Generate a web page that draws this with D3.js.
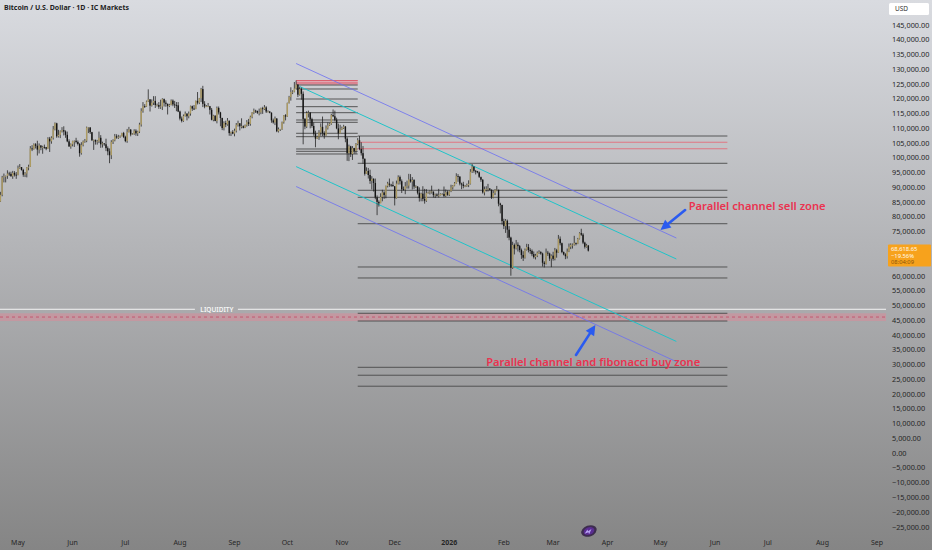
<!DOCTYPE html>
<html><head><meta charset="utf-8">
<script src="https://cdn.jsdelivr.net/npm/d3@7"></script>
<style>html,body{margin:0;padding:0;overflow:hidden;background:#b0b0b0}svg{display:block}</style>
</head><body><svg id="c" width="932" height="550"></svg>
<script>
// ---------- DATA ----------
const title = "Bitcoin / U.S. Dollar · 1D · IC Markets";
const startDate = "2025-04-21";   // first daily candle
const firstOpen = 85.2;           // thousands USD
// daily closes / highs / lows (thousands USD), Apr 21 2025 .. Mar 21 2026
const closes = [
 87.5,93.4,93.7,93.9,94.7,94.6,93.8,94.9,94.3,94.2,
 96.5,96.9,95.9,94.3,94.7,96.8,97.0,103.2,102.9,104.6,104.1,102.8,104.2,103.5,103.7,103.6,103.1,106.5,105.6,106.8,109.7,111.7,107.3,107.8,109.0,109.4,108.9,107.8,105.6,103.9,104.6,
 105.7,105.8,105.4,104.7,101.6,104.4,105.6,105.8,110.3,110.3,108.7,106.0,106.1,105.5,105.6,106.8,104.6,104.9,104.6,103.3,102.2,100.9,105.4,106.0,107.3,106.9,107.1,107.3,108.4,107.1,
 105.7,108.8,109.6,107.9,108.2,109.2,108.3,108.9,111.3,115.9,117.5,117.4,119.1,119.8,117.7,118.7,119.3,117.9,117.9,117.3,117.4,119.9,118.7,118.3,117.6,117.9,119.4,118.1,117.9,117.8,115.7,
 113.3,112.5,114.2,115.0,114.1,115.0,117.5,116.7,116.5,119.3,118.7,120.2,123.3,118.3,117.4,117.5,117.5,116.3,112.9,114.3,112.5,116.9,115.4,113.5,110.1,111.8,111.3,112.6,108.4,108.8,108.2,
 109.2,111.2,111.7,110.7,110.7,110.2,111.1,112.1,111.5,113.9,115.4,116.0,115.9,115.3,115.4,116.8,116.5,117.1,115.7,115.7,115.3,112.7,112.0,113.3,109.0,109.7,109.7,112.1,114.4,114.0,
 118.6,120.6,122.3,122.4,123.5,124.8,121.4,123.3,121.7,113.2,110.6,115.2,115.3,113.1,110.8,108.2,106.5,107.2,108.6,110.5,108.4,107.6,110.0,111.0,111.6,114.5,114.1,112.9,110.0,108.3,109.6,
 110.1,110.6,106.5,101.6,103.9,101.3,103.3,102.3,104.7,106.0,103.0,101.6,99.7,94.6,95.6,94.2,92.2,92.9,91.5,86.6,85.1,84.6,86.8,88.3,87.4,90.5,91.3,90.9,90.8,90.4,
 86.3,91.3,93.5,92.1,89.4,89.3,90.4,90.6,92.7,92.0,92.5,90.3,90.3,88.2,86.4,87.9,86.1,85.5,88.1,88.3,88.6,88.6,87.4,87.6,87.2,87.3,87.8,87.8,87.1,88.4,87.5,
 88.7,90.0,90.6,91.4,93.8,93.7,91.3,91.0,90.5,90.5,90.8,91.2,95.3,97.0,95.6,95.5,95.1,93.6,92.6,88.3,89.4,89.5,89.6,89.2,86.6,88.1,89.2,89.2,84.5,84.1,78.6,
 76.9,78.7,75.7,73.0,62.8,70.5,69.3,70.6,70.1,68.8,67.1,66.2,68.9,69.8,68.8,68.5,67.4,66.4,66.9,67.9,68.1,67.6,64.5,64.1,67.9,67.6,65.9,66.9,
 65.8,68.7,67.9,72.6,71.1,68.1,67.3,66.7,68.3,69.9,70.5,70.6,71.2,70.9,72.6,74.5,74.0,71.3,69.9,70.3,68.6
];
const highs = [
 88.5,93.9,94.7,94.0,95.8,95.3,95.3,95.6,95.5,95.2,
 97.4,97.9,96.9,96.3,95.2,96.9,97.7,104.0,104.3,104.9,105.0,105.8,104.9,104.3,104.1,104.5,103.7,107.0,107.1,107.3,110.8,112.0,111.9,109.5,109.3,110.4,110.7,109.3,108.9,106.3,104.9,
 105.8,105.9,106.8,105.9,105.0,105.3,105.9,106.4,110.6,110.4,110.4,108.8,106.2,106.2,106.1,108.9,107.7,105.5,105.0,106.5,103.9,103.2,106.0,106.3,108.1,108.0,107.8,107.6,108.5,108.8,
 107.5,109.8,110.5,109.7,108.4,109.7,109.7,109.2,111.9,116.8,118.9,118.2,119.4,123.2,119.9,119.8,120.9,120.9,118.4,118.9,119.7,120.2,120.1,119.5,118.4,118.3,119.8,119.8,119.3,118.9,118.9,
 116.0,114.0,114.7,115.7,115.1,115.7,117.7,117.7,117.9,119.4,122.3,120.3,123.7,124.4,119.2,117.9,118.6,117.6,116.9,114.6,114.4,117.4,117.4,115.6,113.6,112.4,112.6,113.5,112.6,108.9,109.4,
 109.9,111.8,112.6,111.8,113.4,111.0,111.3,112.8,113.2,114.3,115.5,116.7,116.3,116.0,116.7,117.0,117.3,117.9,117.5,116.1,115.8,115.4,113.3,114.0,113.5,110.3,109.8,112.3,114.5,114.8,
 118.7,121.0,123.9,122.9,125.7,126.2,125.0,124.1,123.8,122.5,113.5,115.8,116.0,115.5,113.6,112.0,109.2,107.5,109.4,111.7,114.0,109.0,111.0,112.0,111.9,114.9,116.4,116.0,113.6,111.6,111.2,
 110.6,111.2,110.8,107.0,104.5,104.1,104.0,103.4,105.0,106.7,107.4,105.3,104.0,99.8,96.8,96.6,96.0,93.8,93.1,93.0,87.3,85.6,88.0,89.2,88.7,90.6,91.9,93.0,91.2,92.0,
 90.4,92.3,94.1,94.0,92.7,90.3,91.8,92.3,94.6,94.5,93.5,92.8,90.7,90.4,90.0,88.2,90.4,89.5,89.4,88.6,89.0,90.6,88.6,87.9,88.0,89.5,88.0,88.0,90.3,89.3,89.0,
 88.9,90.9,90.8,91.8,94.8,94.5,93.7,91.6,91.9,90.8,91.3,92.4,96.2,97.9,97.2,95.9,95.6,95.4,93.3,92.8,90.3,90.4,91.2,89.8,89.3,88.9,89.4,90.5,89.2,84.8,84.0,
 79.4,79.3,79.1,76.9,73.3,71.6,71.0,72.2,71.4,70.5,69.3,68.4,69.3,70.9,70.8,69.4,69.0,68.3,67.5,68.3,68.7,68.4,67.9,65.0,69.3,68.5,67.9,67.3,
 68.2,69.5,69.2,73.9,73.4,71.3,68.3,67.7,69.3,71.0,71.1,71.0,73.6,71.3,72.9,74.8,76.0,74.5,71.6,70.9,70.5
];
const lows = [
 85.1,87.0,91.7,91.7,92.9,93.9,93.6,92.9,93.7,92.9,
 94.1,96.3,95.7,93.6,93.5,93.4,95.8,97.0,102.3,102.8,103.2,100.8,101.5,102.6,101.4,103.1,102.6,103.1,102.0,104.8,106.2,109.3,106.8,106.9,106.7,108.6,107.6,106.8,105.3,103.7,103.1,
 103.9,103.7,104.9,104.2,100.4,101.1,103.9,105.1,105.3,108.4,108.1,105.7,102.7,104.5,104.5,105.0,103.4,103.5,104.1,102.3,100.9,98.2,99.6,104.7,105.6,106.5,106.4,106.8,107.3,106.7,
 105.3,105.1,108.6,107.3,107.8,107.8,107.5,107.4,108.4,110.6,115.3,116.9,117.3,118.9,115.7,117.4,117.9,116.9,117.4,116.6,116.6,116.2,117.4,117.3,114.7,117.2,117.8,117.5,116.9,115.8,115.5,
 112.7,112.0,112.2,114.0,112.7,113.4,114.3,115.9,116.2,116.5,118.1,118.2,118.9,117.2,116.8,117.2,117.2,114.7,112.7,112.4,112.4,111.7,114.7,110.7,109.4,109.3,110.4,110.9,107.5,107.4,108.0,
 107.3,108.6,110.6,109.3,110.0,110.0,110.1,110.6,110.8,110.9,113.4,114.8,115.2,114.9,114.4,114.8,114.9,116.2,115.2,115.4,115.1,111.9,111.6,111.1,108.7,108.6,109.1,109.5,111.6,112.7,
 113.9,118.4,119.4,121.6,122.2,123.2,120.6,121.1,119.7,104.6,109.7,110.1,113.7,110.0,110.2,107.5,103.6,106.4,106.1,107.5,107.4,106.5,107.5,109.6,110.8,111.2,113.8,112.4,109.7,106.3,108.6,
 109.4,109.8,105.3,99.0,98.9,100.3,99.3,101.4,101.4,104.3,102.6,100.8,98.0,94.0,94.6,93.0,91.2,89.3,88.6,86.0,80.6,83.5,84.7,85.3,86.1,86.3,90.0,90.2,90.2,90.3,
 83.9,86.2,91.0,91.0,88.1,88.9,87.7,89.6,89.6,91.6,89.3,89.5,89.8,87.6,85.2,85.3,85.3,84.5,85.1,87.9,87.6,87.9,86.6,86.4,86.9,86.6,87.3,87.4,86.7,86.8,87.2,
 87.1,88.4,89.3,90.4,91.3,91.9,90.7,89.4,89.7,90.1,90.2,90.1,91.0,94.9,95.0,94.4,94.8,93.2,91.9,87.9,87.3,88.6,88.6,89.0,86.1,86.3,87.4,88.7,83.6,81.2,77.4,
 75.9,74.6,72.9,72.1,60.1,62.4,67.3,69.0,68.3,68.0,65.8,65.1,65.9,68.6,68.0,67.5,66.7,65.9,65.6,66.4,67.5,67.2,63.2,62.9,63.9,66.8,65.1,63.0,
 65.2,65.3,66.2,67.8,70.4,67.7,67.0,65.7,65.9,68.1,69.1,69.3,70.3,70.4,70.8,72.4,73.6,70.8,69.3,69.6,68.3
];
// axis ticks (70,000 and 65,000 sit under the last-price tag and are hidden there)
const priceTicks = [145,140,135,130,125,120,115,110,105,100,95,90,85,80,75,60,55,50,45,40,35,30,25,20,15,10,5,0,-5,-10,-15,-20,-25];
const monthTicks = ["2025-05-01","2025-06-01","2025-07-01","2025-08-01","2025-09-01","2025-10-01","2025-11-01","2025-12-01","2026-01-01","2026-02-01","2026-03-01","2026-04-01","2026-05-01","2026-06-01","2026-07-01","2026-08-01","2026-09-01"];
const monthLabels = ["May","Jun","Jul","Aug","Sep","Oct","Nov","Dec","2026","Feb","Mar","Apr","May","Jun","Jul","Aug","Sep"];
// drawn levels (thousands USD)
const levelsRightDark = [107.41, 98.17, 89.03, 86.65, 77.71, 63.05, 59.33, 47.37, 44.76, 29.08, 26.40, 22.68];
const levelsRightRed = [105.27, 103.11];
const levelsRightSpan = ["2025-11-10", "2026-06-08"];
const levelsLeftDark = [124.68, 123.33, 119.94, 117.34, 115.30, 112.83, 112.05, 108.33, 107.18, 103.01, 102.23, 101.32];
const levelsLeftRed = [126.2, 125.36];
const levelsLeftBand = [126.35, 124.68];
const levelsLeftSpan = ["2025-10-06", "2025-11-10"];
const liquidityLevel = 48.73;
const liquidityBand = [47.37, 44.76];
const liquidityDash = 46.1;
const liquidityLabel = "LIQUIDITY";
const liquidityLabelDate = "2025-08-22";
// channels: [date0, price0, date1, price1]
const channelBlue = [["2025-10-06",131.96,"2026-05-10",72.87],["2025-10-06",90.31,"2026-05-10",30.98]];
const channelCyan = [["2025-10-08",124.17,"2026-05-10",65.76],["2025-10-06",97.05,"2026-05-10",37.85]];
// arrows: [tailDate, tailPrice, tipDate, tipPrice]
const arrows = [["2026-05-15",82.35,"2026-05-01",75.58],["2026-03-14",33.25,"2026-03-25",43.40]];
const notes = [
  {text:"Parallel channel sell zone", date:"2026-05-17", price:83.6, width:137},
  {text:"Parallel channel and fibonacci buy zone", date:"2026-01-22", price:30.9, width:214}
];
const lastPrice = 68.61865;
const lastChange = "−19.56%";
const countdown = "08:04:09";
const currency = "USD";

// ---------- CHART ----------
const W = 932, H = 550, plotRight = 886;
const svg = d3.select("#c");
const parse = d3.utcParse("%Y-%m-%d");
const x = d3.scaleUtc().domain([parse("2025-05-01"), parse("2026-09-01")]).range([18, 877]);
const y = d3.scaleLinear().domain([145, -25]).range([25, 527]);
const FONT = "'Noto Sans', 'Open Sans', sans-serif";

const defs = svg.append("defs");
const g = defs.append("linearGradient").attr("id","bg").attr("x1",0).attr("y1",0).attr("x2",0).attr("y2",1);
g.append("stop").attr("offset","0").attr("stop-color","#d9dbe0");
g.append("stop").attr("offset","0.45").attr("stop-color","#b3b4b7");
g.append("stop").attr("offset","1").attr("stop-color","#858585");
svg.append("rect").attr("width",W).attr("height",H).attr("fill","url(#bg)");

// liquidity band across full width
svg.append("rect").attr("x",0).attr("width",plotRight)
  .attr("y", y(liquidityBand[0])).attr("height", y(liquidityBand[1]) - y(liquidityBand[0]))
  .attr("fill","#d98a99").attr("opacity",0.55);
svg.append("line").attr("x1",0).attr("x2",plotRight).attr("y1",y(liquidityDash)).attr("y2",y(liquidityDash))
  .attr("stroke","#c44a64").attr("stroke-width",0.8).attr("stroke-dasharray","3,3");
// liquidity line with label gap
const lx = x(parse(liquidityLabelDate));
svg.append("line").attr("x1",0).attr("x2",lx-22).attr("y1",y(liquidityLevel)).attr("y2",y(liquidityLevel)).attr("stroke","#f4f4f4").attr("stroke-width",1);
svg.append("line").attr("x1",lx+21).attr("x2",plotRight).attr("y1",y(liquidityLevel)).attr("y2",y(liquidityLevel)).attr("stroke","#f4f4f4").attr("stroke-width",1);
svg.append("text").attr("x",lx).attr("y",y(liquidityLevel)).attr("dy","0.35em").attr("text-anchor","middle")
  .attr("font-family",FONT).attr("font-size",6.5).attr("font-weight",600).attr("fill","#f6f6f6").text(liquidityLabel);

// left level set
const lx0 = x(parse(levelsLeftSpan[0])), lx1 = x(parse(levelsLeftSpan[1]));
svg.append("rect").attr("x",lx0).attr("width",lx1-lx0).attr("y",y(levelsLeftBand[0])).attr("height",y(levelsLeftBand[1])-y(levelsLeftBand[0]))
  .attr("fill","#e59aa5").attr("opacity",0.75);
svg.selectAll(".ld").data(levelsLeftDark).join("line").attr("x1",lx0).attr("x2",lx1)
  .attr("y1",d=>y(d)).attr("y2",d=>y(d)).attr("stroke","#474747").attr("stroke-width",0.9);
svg.selectAll(".lr").data(levelsLeftRed).join("line").attr("x1",lx0).attr("x2",lx1)
  .attr("y1",d=>y(d)).attr("y2",d=>y(d)).attr("stroke","#d9606f").attr("stroke-width",1);

// right level set
const rx0 = x(parse(levelsRightSpan[0])), rx1 = x(parse(levelsRightSpan[1]));
svg.selectAll(".rd").data(levelsRightDark).join("line").attr("x1",rx0).attr("x2",rx1)
  .attr("y1",d=>y(d)).attr("y2",d=>y(d)).attr("stroke","#4a4a4a").attr("stroke-width",0.9);
svg.selectAll(".rr").data(levelsRightRed).join("line").attr("x1",rx0).attr("x2",rx1)
  .attr("y1",d=>y(d)).attr("y2",d=>y(d)).attr("stroke","#e07682").attr("stroke-width",1.1);

// channels
function seg(arr, color, w) {
  svg.selectAll(null).data(arr).join("line")
    .attr("x1",d=>x(parse(d[0]))).attr("y1",d=>y(d[1]))
    .attr("x2",d=>x(parse(d[2]))).attr("y2",d=>y(d[3]))
    .attr("stroke",color).attr("stroke-width",w);
}
seg(channelBlue, "#6b6ff2", 0.8);
seg(channelCyan, "#1fc4c9", 1);

// candles
const t0 = parse(startDate);
const candles = closes.map((c,i)=>({
  date: d3.utcDay.offset(t0, i),
  o: i===0 ? firstOpen : closes[i-1], c, h: highs[i], l: lows[i]
}));
const cg = svg.append("g");
cg.selectAll("line").data(candles).join("line")
  .attr("x1",d=>x(d.date)).attr("x2",d=>x(d.date))
  .attr("y1",d=>y(d.h)).attr("y2",d=>y(d.l))
  .attr("stroke","#1b1b1b").attr("stroke-width",0.75);
cg.selectAll("rect").data(candles).join("rect")
  .attr("x",d=>x(d.date)-0.7).attr("width",1.4)
  .attr("y",d=>y(Math.max(d.o,d.c)))
  .attr("height",d=>Math.max(0.8, Math.abs(y(d.o)-y(d.c))))
  .attr("fill",d=>d.c>=d.o ? "#ad9b62" : "#141414");

// arrows
arrows.forEach(a=>{
  const x0 = x(parse(a[0])), y0 = y(a[1]), x1 = x(parse(a[2])), y1 = y(a[3]);
  const ang = Math.atan2(y1-y0, x1-x0), L = 10, Wd = 5;
  const bx = x1 - L*Math.cos(ang), by = y1 - L*Math.sin(ang);
  svg.append("line").attr("x1",x0).attr("y1",y0).attr("x2",bx).attr("y2",by)
    .attr("stroke","#2a5bf0").attr("stroke-width",2.6).attr("stroke-linecap","round");
  const px = -Math.sin(ang), py = Math.cos(ang);
  svg.append("path").attr("d",`M${x1},${y1}L${bx+px*Wd},${by+py*Wd}L${bx-px*Wd},${by-py*Wd}Z`).attr("fill","#2a5bf0");
});

// notes
notes.forEach(n=>{
  svg.append("text").attr("x",x(parse(n.date))).attr("y",y(n.price)).attr("dy","0.35em")
    .attr("font-family",FONT).attr("font-size",10.5).attr("font-weight",600).attr("fill","#ea3350")
    .attr("textLength",n.width).attr("lengthAdjust","spacingAndGlyphs").text(n.text);
});

// title
svg.append("text").attr("x",4).attr("y",8).attr("dy","0.35em").attr("font-family",FONT)
  .attr("font-size",7).attr("font-weight",700).attr("fill","#1e1e1e").text(title);

// right price axis
const ya = svg.append("g");
ya.selectAll("text").data(priceTicks).join("text")
  .attr("x",892).attr("y",d=>y(d)).attr("dy","0.35em")
  .attr("font-family",FONT).attr("font-size",7.3).attr("fill","#262626")
  .text(d=>d3.format(",.2f")(d*1000));
// USD box
svg.append("rect").attr("x",889).attr("y",3).attr("width",40).attr("height",12).attr("rx",1.5).attr("fill","#ffffff");
svg.append("text").attr("x",895).attr("y",9).attr("dy","0.35em").attr("font-family",FONT).attr("font-size",6.5).attr("fill","#333").text(currency);
// last price tag
const py0 = y(lastPrice);
svg.append("rect").attr("x",888).attr("y",py0-6).attr("width",43).attr("height",22).attr("rx",1).attr("fill","#f7a21c");
const tagLines = [[d3.format(",.2f")(lastPrice*1000),"#fffaf0"],[lastChange,"#fffaf0"],[countdown,"#8a5208"]];
svg.selectAll(".tag").data(tagLines).join("text")
  .attr("x",891).attr("y",(d,i)=>py0-1.8+i*6.8).attr("dy","0.35em")
  .attr("font-family",FONT).attr("font-size",5.8).attr("fill",d=>d[1]).text(d=>d[0]);

// time axis
svg.selectAll(".mt").data(monthTicks).join("text")
  .attr("x",d=>x(parse(d))).attr("y",543).attr("dy","0.35em").attr("text-anchor","middle")
  .attr("font-family",FONT).attr("font-size",7).attr("fill","#262626")
  .attr("font-weight",(d,i)=>monthLabels[i]==="2026"?700:400)
  .text((d,i)=>monthLabels[i]);

// small logo
const lg = svg.append("g").attr("transform","translate(589,531) rotate(-20)");
lg.append("ellipse").attr("rx",8).attr("ry",5.5).attr("fill","#2b1640").attr("opacity",0.8);
lg.append("ellipse").attr("rx",5.5).attr("ry",3.8).attr("fill","#5a2d91");
lg.append("path").attr("d","M-5,1 L-1,-2 L-1,0 L3,-1 L-1,3 L-1,1Z").attr("fill","#b9a3f5");
</script></body></html>
